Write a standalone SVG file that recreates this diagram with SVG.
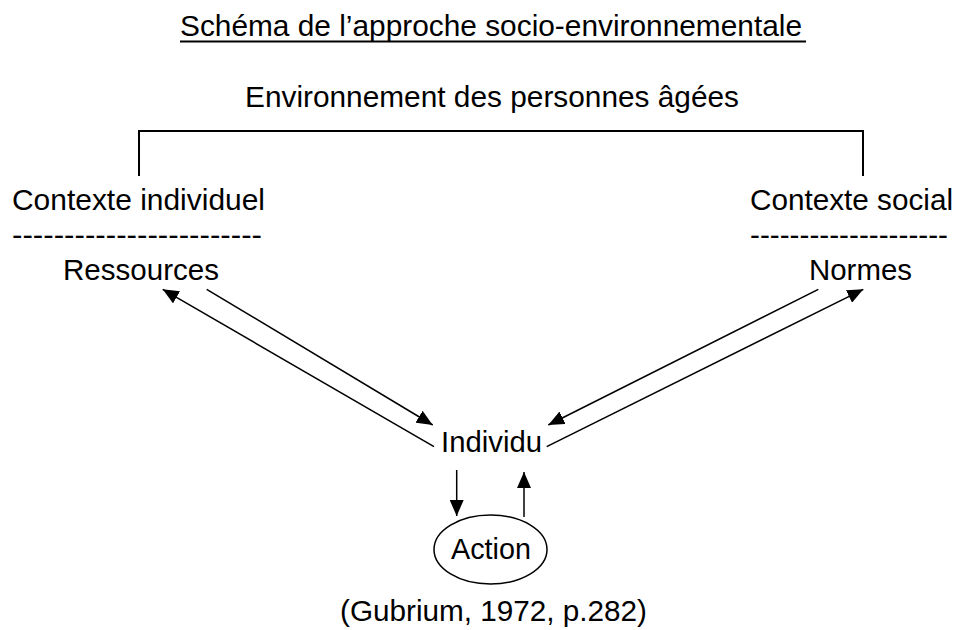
<svg xmlns="http://www.w3.org/2000/svg" width="958" height="630" viewBox="0 0 958 630">
<style>
text{font-family:"Liberation Sans",Arial,sans-serif;font-size:30px;fill:#000}
.ln{stroke:#000;stroke-width:1.5;fill:none}
.ar{stroke:#000;stroke-width:1.5;fill:none;marker-end:url(#ah)}
</style>
<defs>
<marker id="ah" markerUnits="userSpaceOnUse" markerWidth="17" markerHeight="14" refX="16" refY="7" orient="auto">
<path d="M0,0 L16,7 L0,14 z" fill="#000"/>
</marker>
</defs>
<rect width="958" height="630" fill="#fff"/>
<g id="title">
<text x="180" y="36" textLength="622" lengthAdjust="spacingAndGlyphs">Schéma de l’approche socio-environnementale</text>
<line x1="180" y1="41.5" x2="806" y2="41.5" stroke="#000" stroke-width="2"/>
</g>
<g id="environnement">
<text x="245" y="107" textLength="494" lengthAdjust="spacingAndGlyphs">Environnement des personnes âgées</text>
</g>
<g id="contexte-individuel">
<text x="12" y="210" textLength="253" lengthAdjust="spacingAndGlyphs">Contexte individuel</text>
<text x="12" y="245" textLength="250" lengthAdjust="spacingAndGlyphs">------------------------</text>
<text x="63" y="280" textLength="156" lengthAdjust="spacingAndGlyphs">Ressources</text>
</g>
<g id="contexte-social">
<text x="750" y="210" textLength="203" lengthAdjust="spacingAndGlyphs">Contexte social</text>
<text x="750" y="245" textLength="198" lengthAdjust="spacingAndGlyphs">--------------------</text>
<text x="809" y="280" textLength="103" lengthAdjust="spacingAndGlyphs">Normes</text>
</g>
<g id="individu">
<text x="441" y="452" textLength="101" lengthAdjust="spacingAndGlyphs">Individu</text>
</g>
<g id="action">
<ellipse cx="490.5" cy="549.5" rx="56.5" ry="34.5" class="ln"/>
<text x="451" y="559" textLength="80" lengthAdjust="spacingAndGlyphs">Action</text>
</g>
<g id="citation">
<text x="340" y="621" textLength="307" lengthAdjust="spacingAndGlyphs">(Gubrium, 1972, p.282)</text>
</g>
<g id="connectors">
<polyline class="ln" points="139,176 139,131 863,131 863,176" style="stroke-width:2"/>
<line class="ar" x1="206.7" y1="289.3" x2="432.7" y2="425"/>
<line class="ar" x1="434" y1="446.7" x2="162.7" y2="289.3"/>
<line class="ar" x1="818.3" y1="289.3" x2="548.3" y2="425"/>
<line class="ar" x1="546.7" y1="446.7" x2="863.3" y2="289.3"/>
<line class="ar" x1="456.7" y1="470" x2="456.7" y2="516"/>
<line class="ar" x1="524" y1="517" x2="524" y2="472"/>
</g>
</svg>
